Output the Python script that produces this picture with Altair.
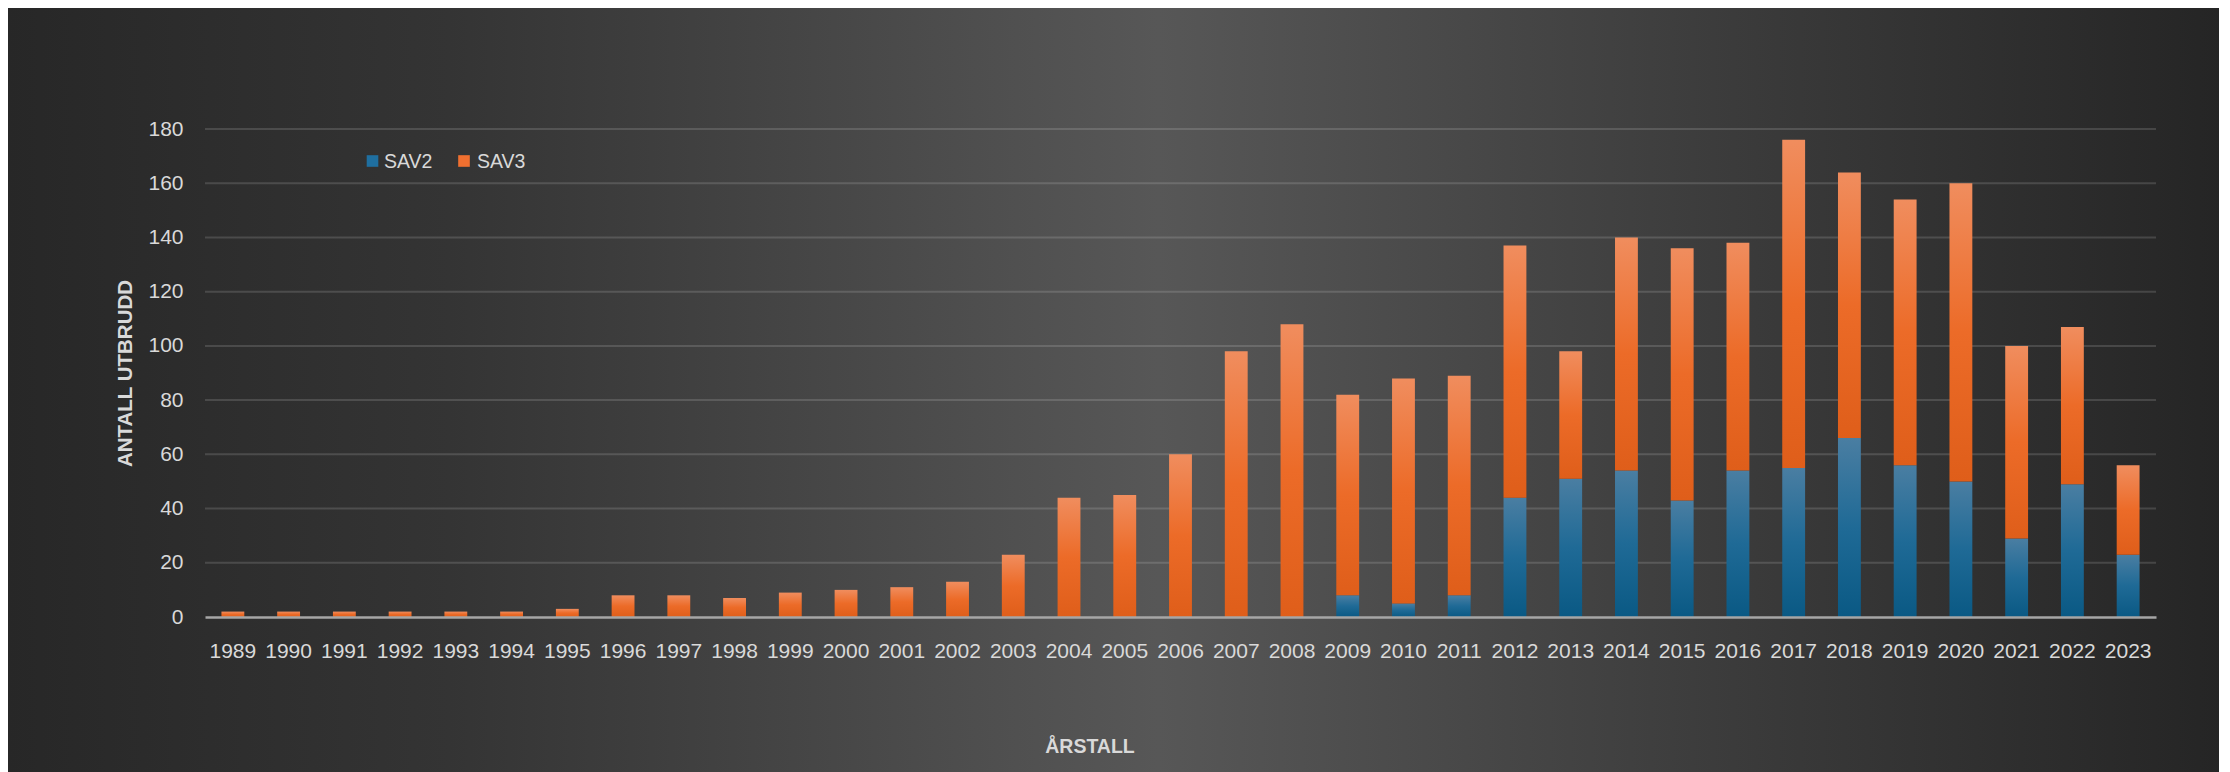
import altair as alt
import pandas as pd

years = [str(y) for y in range(1989, 2024)]
sav2 = [0, 0, 0, 0, 0, 0, 0, 0, 0, 0, 0, 0, 0, 0, 0, 0, 0, 0, 0, 0,
        8, 5, 8, 44, 51, 54, 43, 54, 55, 66, 56, 50, 29, 49, 23]
sav3 = [2, 2, 2, 2, 2, 2, 3, 8, 8, 7, 9, 10, 11, 13, 23, 44, 45, 60, 98, 108,
        74, 83, 81, 93, 47, 86, 93, 84, 121, 98, 98, 110, 71, 58, 33]
y_ticks = [0, 20, 40, 60, 80, 100, 120, 140, 160, 180]
series = ["SAV2", "SAV3"]

df = pd.DataFrame({"year": years, "SAV2": sav2, "SAV3": sav3})
df["top"] = df["SAV2"] + df["SAV3"]
grid_df = pd.DataFrame({"v": y_ticks[1:]})

W, H = 1951, 488
PL, PT, PR, PB = 197, 121, 63, 155

FONT = "Liberation Sans"
LABEL = "#d9d9d9"

bg_grad = {
    "gradient": "linear", "x1": 0, "x2": 1, "y1": 0, "y2": 0,
    "stops": [
        {"offset": 0.0, "color": "#272727"},
        {"offset": 0.2, "color": "#343434"},
        {"offset": 0.52, "color": "#575757"},
        {"offset": 0.78, "color": "#3b3b3b"},
        {"offset": 1.0, "color": "#252525"},
    ],
}
orange_grad = {
    "gradient": "linear", "x1": 0, "x2": 0, "y1": 0, "y2": 1,
    "stops": [
        {"offset": 0.0, "color": "#f08d5e"},
        {"offset": 0.5, "color": "#ec6b28"},
        {"offset": 1.0, "color": "#df5e1a"},
    ],
}
blue_grad = {
    "gradient": "linear", "x1": 0, "x2": 0, "y1": 0, "y2": 1,
    "stops": [
        {"offset": 0.0, "color": "#4a7ea2"},
        {"offset": 0.5, "color": "#1f6a96"},
        {"offset": 1.0, "color": "#0a5984"},
    ],
}

xscale = alt.Scale(paddingInner=0.59, paddingOuter=0.295)
yscale = alt.Scale(domain=[0, 180], nice=False, zero=True)

xaxis = alt.Axis(
    title="ÅRSTALL", labelAngle=0, ticks=False, labelPadding=23,
    labelFont=FONT, labelFontSize=21, labelColor=LABEL,
    domainColor="#a6a6a6", domainWidth=2.5, grid=False, zindex=1,
    titleFont=FONT, titleFontSize=19.5, titleFontWeight="bold", titleColor=LABEL,
    titleX=884.5, titleY=135, titleBaseline="alphabetic", titleAlign="center",
)
yaxis = alt.Axis(
    title="ANTALL UTBRUDD", values=y_ticks, ticks=False, domain=False,
    labelPadding=22, labelFont=FONT, labelFontSize=21, labelColor=LABEL,
    grid=False, zindex=1,
    titleFont=FONT, titleFontSize=20.5, titleFontWeight="bold", titleColor=LABEL,
    titleX=-80, titleY=H / 2, titleAngle=270, titleBaseline="middle",
    titleAlign="center",
)

bg = alt.Chart(pd.DataFrame({"k": [0]})).mark_rect(fill=bg_grad).encode(
    x=alt.value(-PL - 2), x2=alt.value(W + PR + 2),
    y=alt.value(-PT - 6), y2=alt.value(H + PB + 2),
)

grid = alt.Chart(grid_df).mark_rule(color="#ffffff", opacity=0.14, strokeWidth=2).encode(
    y=alt.Y("v:Q", scale=yscale, axis=yaxis),
)

base = alt.Chart(df)
bars2 = base.mark_bar(fill=blue_grad).encode(
    x=alt.X("year:O", scale=xscale, axis=xaxis, sort=years),
    y=alt.Y("SAV2:Q", scale=yscale, axis=yaxis),
    y2=alt.datum(0),
)
bars3 = base.mark_bar(fill=orange_grad).encode(
    x=alt.X("year:O", scale=xscale, axis=xaxis, sort=years),
    y=alt.Y("top:Q", scale=yscale, axis=yaxis),
    y2="SAV2:Q",
)

one = pd.DataFrame({"k": [0]})
leg_sq2 = alt.Chart(one).mark_square(size=135, color="#1f6fa0", opacity=1).encode(
    x=alt.value(167.5), y=alt.value(32))
leg_tx2 = alt.Chart(one).mark_text(text=series[0], font=FONT, fontSize=19.5, color=LABEL,
                                   align="left", baseline="alphabetic").encode(
    x=alt.value(179), y=alt.value(38.5))
leg_sq3 = alt.Chart(one).mark_square(size=135, color="#f07030", opacity=1).encode(
    x=alt.value(259), y=alt.value(32))
leg_tx3 = alt.Chart(one).mark_text(text=series[1], font=FONT, fontSize=19.5, color=LABEL,
                                   align="left", baseline="alphabetic").encode(
    x=alt.value(272), y=alt.value(38.5))

chart = alt.layer(bg, grid, bars2, bars3, leg_sq2, leg_tx2, leg_sq3, leg_tx3).properties(
    width=W, height=H,
    autosize=alt.AutoSizeParams(type="none"),
    padding={"left": PL, "top": PT, "right": PR, "bottom": PB},
    background="#3a3a3a",
).configure_view(stroke=None)

chart.save("out.html", embed_options={"renderer": "svg", "actions": False})
